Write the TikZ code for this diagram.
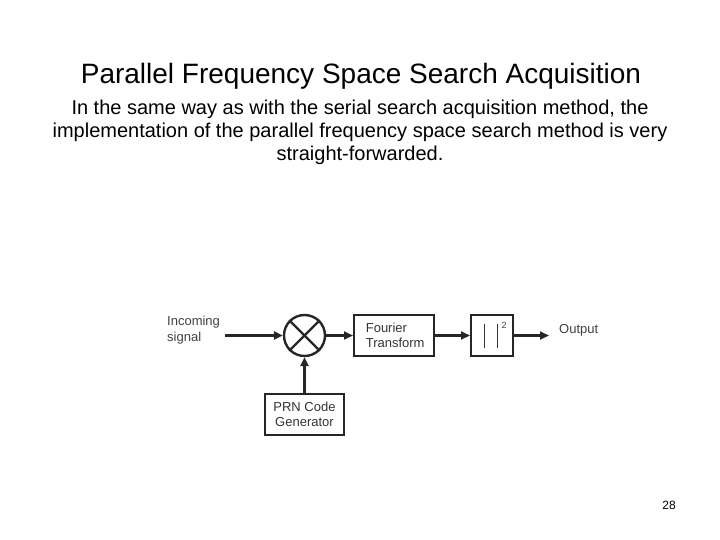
\documentclass[tikz,border=0pt]{standalone}
\usepackage{fontspec}
\setmainfont{Liberation Sans}
\usetikzlibrary{arrows.meta}
\begin{document}
\begin{tikzpicture}[x=1pt,y=-1pt,
  blk/.style={draw=black!85,line width=2.4pt,minimum height=41pt,inner sep=0pt,font=\fontsize{13}{15}\selectfont,text=black!80,align=left},
  conn/.style={draw=black!85,line width=2.2pt,-{Triangle[length=9pt,width=8pt]}},
  lbl/.style={font=\fontsize{13}{16}\selectfont,text=black!75,align=left,inner sep=0pt}]
\useasboundingbox (0,0) rectangle (720,540);
\node[font=\fontsize{28}{32}\selectfont] (title) at (361,76) {Parallel Frequency Space Search Acquisition};
\node[font=\fontsize{20}{23}\selectfont,align=center] (body) at (360,132) {In the same way as with the serial search acquisition method, the\\implementation of the parallel frequency space search method is very\\straight-forwarded.};
\node[draw=black!85,line width=2.4pt,circle,minimum size=41pt,inner sep=0pt] (mix) at (304.5,335.5) {};
\draw[black!85,line width=2.4pt] (mix.45) -- (mix.225) (mix.135) -- (mix.315);
\node[blk,minimum width=80pt,anchor=west] (ft) at (353,335.5) {\hspace*{9pt}Fourier\\\hspace*{9pt}Transform\hspace*{7pt}};
\node[blk,minimum width=42pt,anchor=west] (sq) at (470,335.5) {};
\draw[black!80,line width=1pt] ([xshift=-8pt,yshift=-12pt]sq.center) -- ([xshift=-8pt,yshift=12pt]sq.center)
  ([xshift=5pt,yshift=-12pt]sq.center) -- ([xshift=5pt,yshift=12pt]sq.center);
\node[font=\fontsize{9}{10}\selectfont,text=black!75,inner sep=0pt] (sup) at ([xshift=12pt,yshift=10pt]sq.center) {2};
\node[blk,minimum width=79pt,align=center] (prn) at (304.5,414.5) {PRN Code\\Generator};
\node[lbl,anchor=west] (inc) at (167,330) {Incoming\\signal};
\coordinate (in) at (225,335.5);
\coordinate (out) at (549,335.5);
\node[lbl,anchor=west] (outl) at (559,330) {Output};
\draw[conn] (in) -- (mix.west);
\draw[conn] (mix.east) -- (ft.west);
\draw[conn] (ft.east) -- (sq.west);
\draw[conn] (sq.east) -- (out);
\draw[conn] (prn.north) -- (mix.south);
\node[font=\fontsize{12}{14}\selectfont] (pg) at (669,505) {28};
\end{tikzpicture}
\end{document}
